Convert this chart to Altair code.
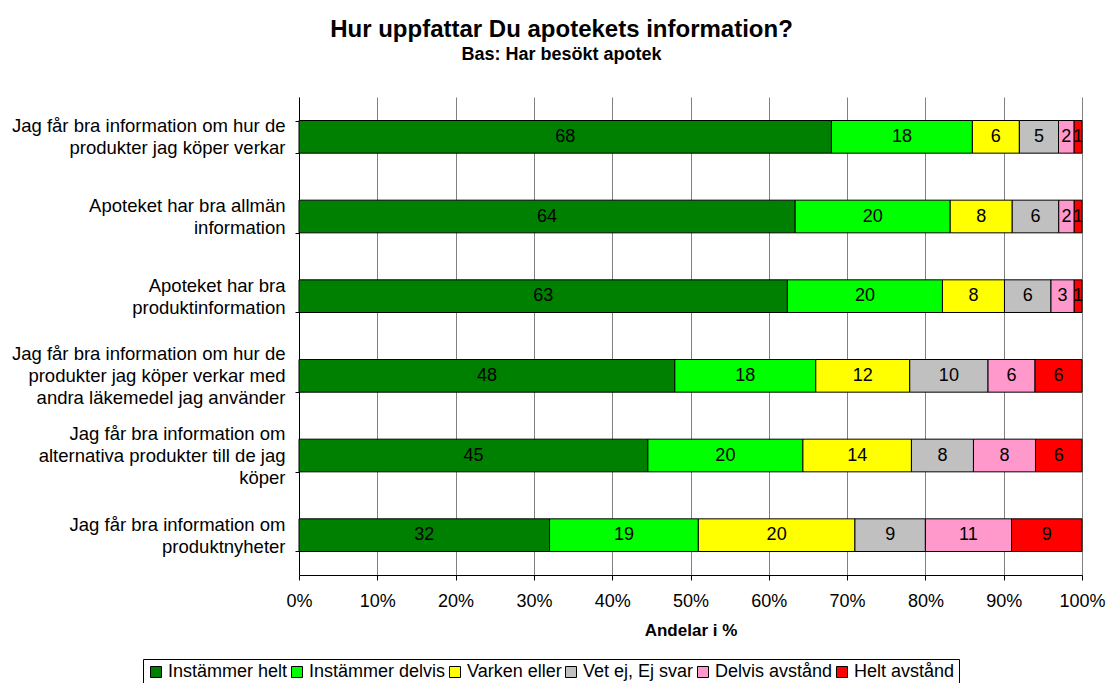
import altair as alt
import pandas as pd

questions = [
    "Jag får bra information om hur de|produkter jag köper verkar",
    "Apoteket har bra allmän|information",
    "Apoteket har bra|produktinformation",
    "Jag får bra information om hur de|produkter jag köper verkar med|andra läkemedel jag använder",
    "Jag får bra information om|alternativa produkter till de jag|köper",
    "Jag får bra information om|produktnyheter",
]
categories = ["Instämmer helt", "Instämmer delvis", "Varken eller",
              "Vet ej, Ej svar", "Delvis avstånd", "Helt avstånd"]
colors = ["#008000", "#00FF00", "#FFFF00", "#C0C0C0", "#FF99CC", "#FF0000"]

instammer_helt = [68, 64, 63, 48, 45, 32]
instammer_delvis = [18, 20, 20, 18, 20, 19]
varken_eller = [6, 8, 8, 12, 14, 20]
vet_ej = [5, 6, 6, 10, 8, 9]
delvis_avstand = [2, 2, 3, 6, 8, 11]
helt_avstand = [1, 1, 1, 6, 6, 9]

series = [instammer_helt, instammer_delvis, varken_eller, vet_ej,
          delvis_avstand, helt_avstand]

rows = []
for ci, (cat, vals) in enumerate(zip(categories, series)):
    for q, v in zip(questions, vals):
        rows.append({"q": q, "cat": cat, "order": ci, "value": v})
df = pd.DataFrame(rows)

FONT = "Liberation Sans"
LINE_H = 22

base = alt.Chart(df).transform_stack(
    stack="value", groupby=["q"], as_=["x0", "x1"], offset="normalize",
    sort=[alt.SortField("order", order="ascending")]
).transform_calculate(mid="(datum.x0 + datum.x1) / 2")

y_enc = alt.Y(
    "q:N", sort=questions, title=None,
    scale=alt.Scale(paddingInner=0.59, paddingOuter=0.295),
    axis=alt.Axis(
        labelExpr="split(datum.label, '|')", labelFont=FONT, labelFontSize=18.5,
        labelLineHeight=LINE_H, labelColor="black", labelPadding=10,
        labelLimit=400, tickBand="extent", tickSize=4, tickColor="black",
        domainColor="black", labelAlign="right", labelBaseline="middle",
        labelOffset={
            "condition": [
                {"test": "length(split(datum.value, '|')) == 3", "value": -LINE_H},
                {"test": "length(split(datum.value, '|')) == 2", "value": -LINE_H / 2},
            ],
            "value": 0,
        },
    ),
)

bars = base.mark_bar(stroke="black", strokeWidth=1).encode(
    x=alt.X(
        "x0:Q", title="Andelar i %",
        scale=alt.Scale(domain=[0, 1], nice=False),
        axis=alt.Axis(
            values=[i / 10 for i in range(11)], format="%", grid=True,
            gridColor="#808080", gridWidth=1, domainColor="black",
            tickColor="black", tickSize=5, labelFont=FONT, labelFontSize=18,
            labelColor="black", labelPadding=12, labelFlush=False,
            titleFont=FONT, titleFontSize=17, titleFontWeight="bold",
            titleColor="black", titlePadding=12,
        ),
    ),
    x2="x1:Q",
    y=y_enc,
    color=alt.Color(
        "cat:N", sort=categories,
        scale=alt.Scale(domain=categories, range=colors),
        legend=alt.Legend(
            title=None, orient="none", direction="horizontal",
            legendX=-156, legendY=562, symbolType="square", symbolSize=121,
            symbolStrokeColor="black", symbolStrokeWidth=1,
            symbolOpacity=1, labelFont=FONT, labelFontSize=18,
            labelColor="black", strokeColor="black", padding=4,
            columnPadding=0, labelOffset=3, labelLimit=300,
            fillColor="white",
        ),
    ),
)

labels = base.mark_text(font=FONT, fontSize=18, color="black").encode(
    x=alt.X("mid:Q"),
    y=alt.Y("q:N", sort=questions),
    text=alt.Text("value:Q"),
)

chart = alt.layer(bars, labels).properties(
    width=783, height=478,
    autosize=alt.AutoSizeParams(type="none"),
    padding={"left": 291, "top": 89, "right": 24, "bottom": 108},
    title=alt.TitleParams(
        text="Hur uppfattar Du apotekets information?",
        subtitle="Bas: Har besökt apotek",
        font=FONT, fontSize=24, fontWeight="bold", color="black",
        subtitleFont=FONT, subtitleFontSize=18, subtitleFontWeight="bold",
        subtitleColor="black", subtitlePadding=4,
        anchor="middle", dx=-129, offset=24,
    ),
).configure_view(stroke=None)

chart.save("out.html", embed_options={"renderer": "svg", "actions": False})
